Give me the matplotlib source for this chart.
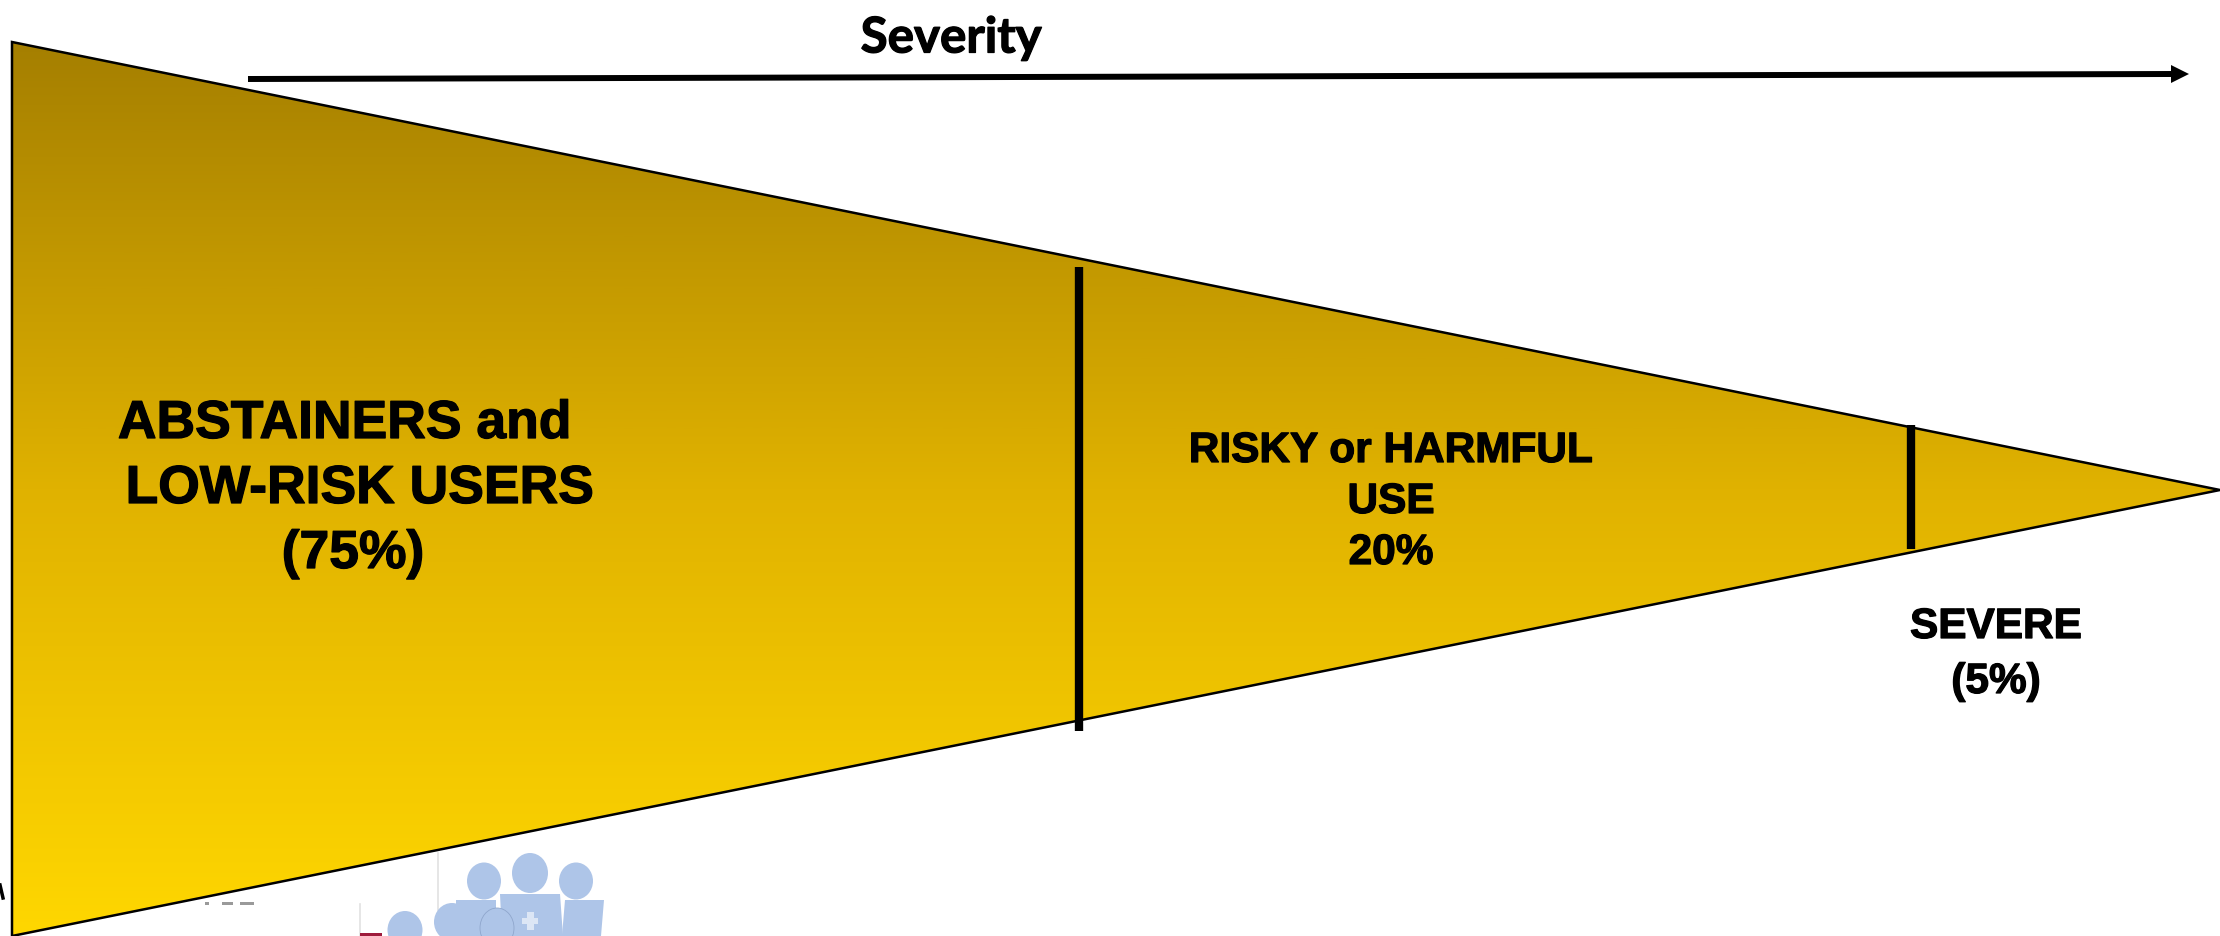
import numpy as np
import matplotlib
matplotlib.use("Agg")
import matplotlib.pyplot as plt
import matplotlib.patheffects as pe
from matplotlib.colors import LinearSegmentedColormap
from matplotlib.patches import Ellipse, Polygon, Rectangle

# Funnel outline and the two dividers between severity groups
wedge_x = [12, 12, 2220]
wedge_y = [42, 936, 490]
divider_x = [1079, 1911]
divider_top = [267, 425]
divider_bottom = [731, 549]

gradient_stops = [(0.0, "#A57F00"), (0.5, "#E0B200"), (1.0, "#FFD700")]

# Label lines, set one by one because each sits at its own centre
label_lines = ["ABSTAINERS and", "LOW-RISK USERS", "(75%)",
               "RISKY or HARMFUL", "USE", "20%",
               "SEVERE", "(5%)"]
label_x = [345, 360, 353, 1391, 1391, 1391, 1996, 1996]
label_y = [424, 489, 554, 451, 502, 553, 627, 682]
label_size = [38.5, 38.5, 38.5, 30.5, 30.5, 30.5, 30.5, 30.5]

axis_title = "Severity"
axis_title_x = 951
axis_title_y = 38
arrow_start = (248, 79)
arrow_end = (2189, 74)

# Group-of-people emblem partly cut off along the bottom edge
heads = [(484, 881, 34, 37), (530, 873, 36, 40), (576, 881, 34, 37),
         (405, 930, 35, 38), (452, 922, 36, 38), (497, 928, 34, 40)]
bodies = [[(456, 900), (496, 900), (496, 936), (456, 936)],
          [(500, 894), (560, 894), (563, 936), (502, 936)],
          [(565, 900), (604, 900), (601, 936), (562, 936)]]
emblem_color = "#AEC5E8"
cut_text_marks = [(205, 4), (222, 11), (240, 14)]

fig = plt.figure(figsize=(22.2, 9.36), dpi=100, facecolor="white")
ax = fig.add_axes([0, 0, 1, 1])
ax.set_xlim(0, 2220)
ax.set_ylim(936, 0)
ax.axis("off")

# Thin separators and the emblem sit behind the funnel
ax.plot([438, 438], [853, 910], color="#E2E2E2", lw=1.2, zorder=1)
ax.plot([360, 360], [904, 936], color="#E2E2E2", lw=1.2, zorder=1)
ax.add_patch(Rectangle((360, 933), 22, 3, color="#9E1B3C", lw=0, zorder=1))
for cx, cy, w, h in heads:
    ax.add_patch(Ellipse((cx, cy), w, h, color=emblem_color, lw=0, zorder=2))
for body in bodies:
    ax.add_patch(Polygon(body, closed=True, color=emblem_color, lw=0, zorder=2))
ax.add_patch(Ellipse((497, 928), 34, 40, fill=False, ec="#8FA6CC", lw=0.6, zorder=3))
ax.add_patch(Rectangle((526.5, 912), 7, 18, color="#DCE6F5", lw=0, zorder=3))
ax.add_patch(Rectangle((522, 918), 16, 6, color="#DCE6F5", lw=0, zorder=3))
ax.plot([0, 3], [885, 898], color="black", lw=2.5, zorder=3)
for x0, w in cut_text_marks:
    ax.add_patch(Rectangle((x0, 901.5), w, 3.5, color="#9A9A9A", lw=0, zorder=3))

# Top-to-bottom gradient clipped to the funnel
cmap = LinearSegmentedColormap.from_list("funnel", gradient_stops)
wedge = Polygon(np.column_stack([wedge_x, wedge_y]), closed=True, fc="none",
                ec="black", lw=1.8, zorder=6, clip_on=True, joinstyle="miter")
ax.add_patch(wedge)
grad = ax.imshow(np.linspace(0, 1, 512).reshape(-1, 1), cmap=cmap, aspect="auto",
                 extent=(12, 2220, 936, 42), zorder=5)
grad.set_clip_path(wedge)
ax.set_xlim(0, 2220)
ax.set_ylim(936, 0)

for x, top, bottom in zip(divider_x, divider_top, divider_bottom):
    ax.plot([x, x], [top, bottom], color="black", lw=6, solid_capstyle="butt", zorder=7)

# A thin stroke gives the labels a slightly heavier bold
heavier = [pe.withStroke(linewidth=0.9, foreground="black")]
for text, x, y, size in zip(label_lines, label_x, label_y, label_size):
    ax.text(x, y, text, ha="center", va="center", fontsize=size, fontweight="bold",
            family="Liberation Sans", color="black", zorder=8, path_effects=heavier)

ax.text(axis_title_x, axis_title_y, axis_title, ha="center", va="center",
        fontsize=35.5, fontweight="bold", family="Lato", color="black", zorder=8,
        path_effects=heavier)

# Severity arrow: a butt-ended shaft with a small filled head
head_len = 18
head_half = 9
ax.plot([arrow_start[0], arrow_end[0] - head_len + 1], [arrow_start[1], arrow_end[1]],
        color="black", lw=4.3, solid_capstyle="butt", zorder=8)
ax.add_patch(Polygon([arrow_end,
                      (arrow_end[0] - head_len, arrow_end[1] - head_half),
                      (arrow_end[0] - head_len, arrow_end[1] + head_half)],
                     closed=True, color="black", lw=0, zorder=8))

fig.savefig("out.png", dpi=100, facecolor="white")
